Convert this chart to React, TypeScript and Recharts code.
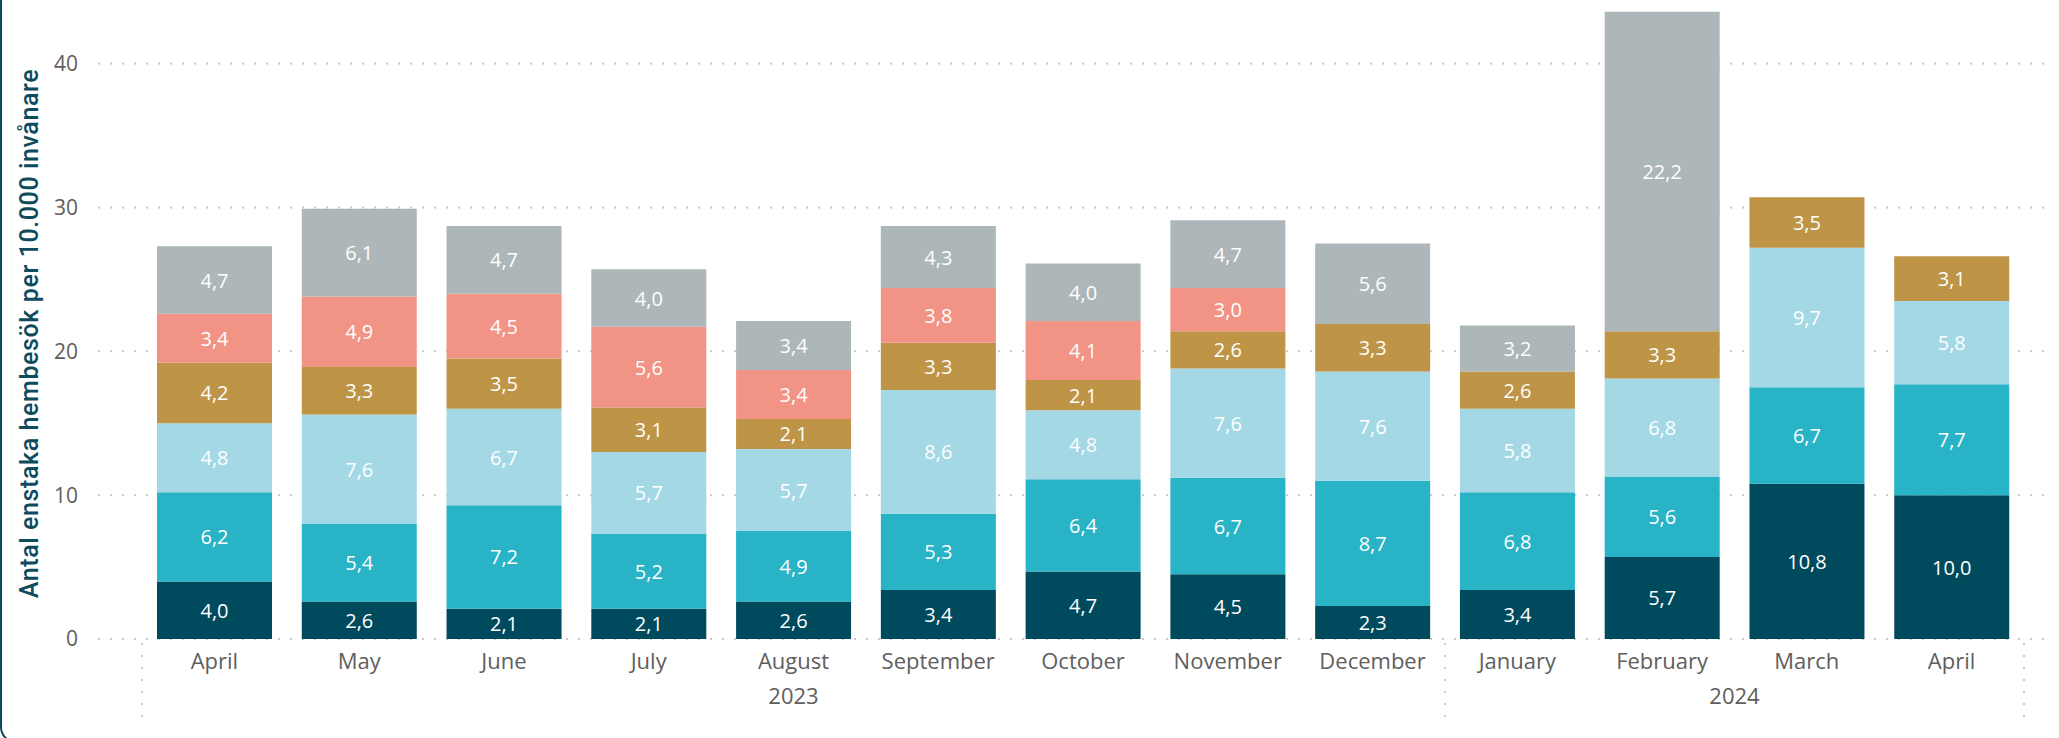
import { BarChart, Bar, XAxis, YAxis, CartesianGrid, LabelList } from 'recharts'

document.body.style.margin = '0'

const months = ['April', 'May', 'June', 'July', 'August', 'September', 'October', 'November', 'December', 'January', 'February', 'March', 'April']
const years = ['2023', '2023', '2023', '2023', '2023', '2023', '2023', '2023', '2023', '2024', '2024', '2024', '2024']

// bottom to top
const s1 = [4.0, 2.6, 2.1, 2.1, 2.6, 3.4, 4.7, 4.5, 2.3, 3.4, 5.7, 10.8, 10.0]
const s2 = [6.2, 5.4, 7.2, 5.2, 4.9, 5.3, 6.4, 6.7, 8.7, 6.8, 5.6, 6.7, 7.7]
const s3 = [4.8, 7.6, 6.7, 5.7, 5.7, 8.6, 4.8, 7.6, 7.6, 5.8, 6.8, 9.7, 5.8]
const s4 = [4.2, 3.3, 3.5, 3.1, 2.1, 3.3, 2.1, 2.6, 3.3, 2.6, 3.3, 3.5, 3.1]
const s5 = [3.4, 4.9, 4.5, 5.6, 3.4, 3.8, 4.1, 3.0, null, null, null, null, null]
const s6 = [4.7, 6.1, 4.7, 4.0, 3.4, 4.3, 4.0, 4.7, 5.6, 3.2, 22.2, null, null]

const yTicks = [0, 10, 20, 30, 40]
const Y_MAX = 44

const series = [
  { key: 's1', values: s1, color: '#004A5E' },
  { key: 's2', values: s2, color: '#28B3C6' },
  { key: 's3', values: s3, color: '#A4D8E5' },
  { key: 's4', values: s4, color: '#BE9447' },
  { key: 's5', values: s5, color: '#F19385' },
  { key: 's6', values: s6, color: '#ADB6B8' },
]

const data = months.map((m, i) => {
  const row: Record<string, any> = { key: `${years[i]}-${i}`, month: m, year: years[i] }
  series.forEach(s => { row[s.key] = s.values[i] })
  return row
})

const FONT = '"Segoe UI", "Open Sans", sans-serif'
const W = 2059
const H = 738
const PAD_L = 44
const PAD_R = 20
const Y_W = 98
const M_RIGHT = 15
const STEP = (W - Y_W - M_RIGHT - PAD_L - PAD_R) / months.length

const fmt = (v: number) => v.toFixed(1).replace('.', ',')

function YearTick(props: any) {
  const { x, y, payload } = props
  const i = payload.index
  const groups: { start: number; end: number; label: string }[] = []
  years.forEach((yr, idx) => {
    const g = groups[groups.length - 1]
    if (g && g.label === yr) g.end = idx
    else groups.push({ start: idx, end: idx, label: yr })
  })
  const out: any[] = []
  groups.forEach(g => {
    const mid = (g.start + g.end) / 2
    if (i === Math.floor(mid)) {
      out.push(
        <text key="l" x={x + (mid - i) * STEP} y={y + 25} textAnchor="middle" fill="#605E5C" fontSize={22} fontFamily={FONT}>
          {g.label}
        </text>
      )
    }
    if (i === g.start) {
      out.push(<line key="s" x1={x - STEP / 2} x2={x - STEP / 2} y1={y - 36} y2={y + 40} stroke="#c8c8c8" strokeWidth={2} strokeDasharray="2 10" />)
    }
    if (i === months.length - 1 && g.end === i) {
      out.push(<line key="e" x1={x + STEP / 2} x2={x + STEP / 2} y1={y - 36} y2={y + 40} stroke="#c8c8c8" strokeWidth={2} strokeDasharray="2 10" />)
    }
  })
  return <g>{out}</g>
}

function AxisTitle(props: any) {
  const { viewBox } = props
  const cy = viewBox.y + viewBox.height / 2 + 11
  return (
    <text x={29} y={cy} transform={`rotate(-90, 29, ${cy})`} textAnchor="middle" dominantBaseline="central" fill="#0E4B5D" fontSize={25} letterSpacing={0.6} fontFamily="Roboto, sans-serif" fontWeight={500}>
      Antal enstaka hembesök per 10.000 invånare
    </text>
  )
}

function gridRows(args: any) {
  const off = args && args.offset
  if (!off) return []
  return yTicks.map(t => off.top + off.height * (1 - t / Y_MAX))
}

export default function App() {
  return (
    <div style={{ position: 'relative', width: W, height: H, overflow: 'hidden', background: '#fff' }}>
      <div style={{ position: 'absolute', left: 0, top: -30, width: W + 40, height: H + 30 + 5, border: '2px solid #0B4A5E', borderRadius: 16, boxSizing: 'border-box' }} />
      <div style={{ position: 'absolute', left: 0, top: 0 }}>
        <BarChart width={W} height={H} data={data} margin={{ top: 6, right: M_RIGHT, left: 0, bottom: 0 }} barSize={115}>
          <CartesianGrid
            vertical={false}
            stroke="#c8c8c8"
            strokeWidth={2}
            strokeDasharray="2 10"
            horizontalCoordinatesGenerator={gridRows}
          />
          <XAxis
            dataKey="key"
            interval={0}
            tickFormatter={(_v: any, i: number) => months[i]}
            axisLine={false}
            tickLine={false}
            tickSize={0}
            tickMargin={14}
            height={40}
            padding={{ left: PAD_L, right: PAD_R }}
            tick={{ fill: '#605E5C', fontSize: 22, fontFamily: FONT }}
          />
          <XAxis
            xAxisId="year"
            dataKey="key"
            interval={0}
            axisLine={false}
            tickLine={false}
            tickSize={0}
            tickMargin={0}
            height={59}
            padding={{ left: PAD_L, right: PAD_R }}
            tick={<YearTick />}
          />
          <YAxis
            width={Y_W}
            domain={[0, Y_MAX]}
            ticks={yTicks}
            axisLine={false}
            tickLine={false}
            tickSize={0}
            tickMargin={20}
            tick={{ fill: '#605E5C', fontSize: 21, fontFamily: FONT }}
            label={<AxisTitle />}
          />
          {series.map(s => (
            <Bar key={s.key} dataKey={s.key} stackId="a" fill={s.color} isAnimationActive={false}>
              <LabelList
                dataKey={s.key}
                position="center"
                content={(p: any) => {
                  if (p.value == null) return null
                  return (
                    <text x={p.x + p.width / 2} y={p.y + p.height / 2} textAnchor="middle" dominantBaseline="central" fill="#fff" fontSize={20} fontFamily={FONT}>
                      {fmt(p.value)}
                    </text>
                  )
                }}
              />
            </Bar>
          ))}
        </BarChart>
      </div>
    </div>
  )
}
